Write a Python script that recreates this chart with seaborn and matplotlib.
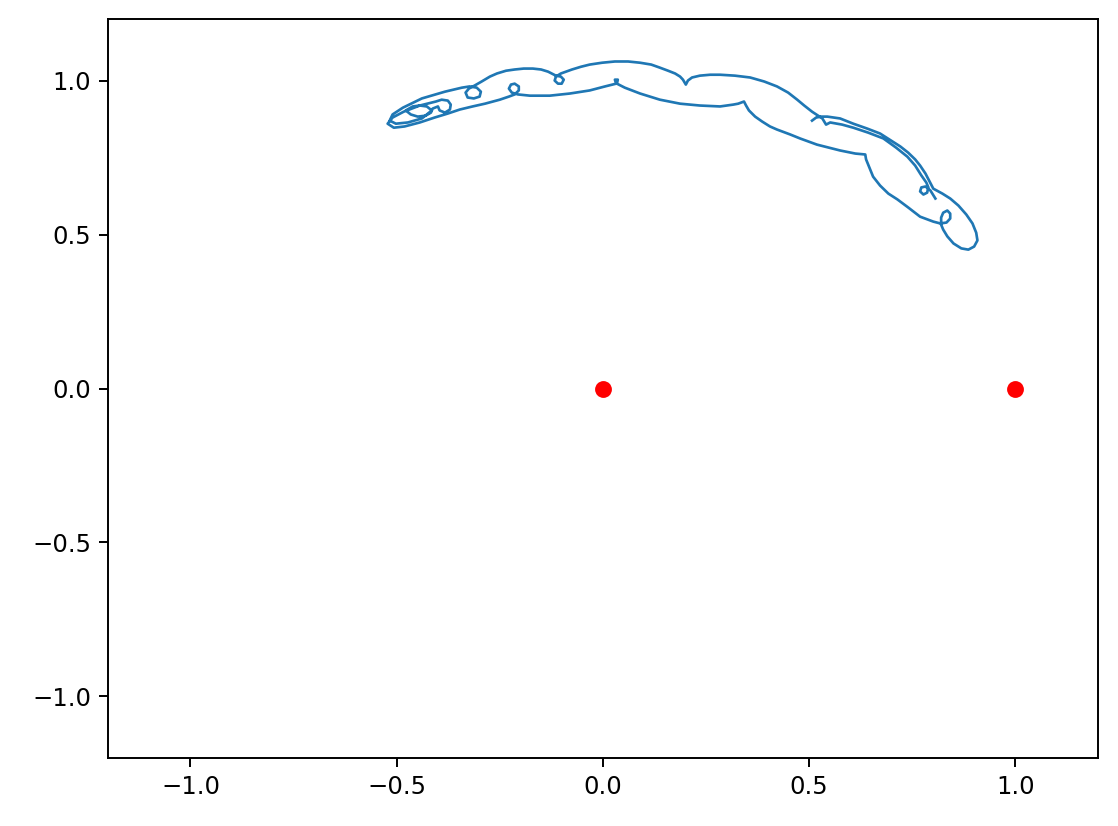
import pandas as pd
import matplotlib
matplotlib.use("Agg")
import matplotlib.pyplot as plt
import seaborn as sns


# positions of the two bodies
body_x = [0.0, 1.0]
body_y = [0.0, 0.0]

# trajectory (rotating frame), in path order
orbit_x = [
    # start near the right end, outward strand
    0.507, 0.517, 0.529, 0.544, 0.575, 0.607, 0.641, 0.672, 0.699, 0.721, 0.740,
    0.757, 0.769, 0.782, 0.791, 0.801,
    # turn at the right end
    0.823, 0.842, 0.862, 0.881, 0.896, 0.905, 0.908, 0.900, 0.886, 0.869, 0.850,
    0.835, 0.825, 0.820,
    0.820, 0.825, 0.835, 0.842, 0.842, 0.833, 0.818, 0.801,
    # inner strand going left
    0.769, 0.740, 0.714, 0.692, 0.672, 0.655, 0.646, 0.638, 0.636, 0.612, 0.575,
    0.519, 0.478, 0.454, 0.422, 0.405, 0.386, 0.369, 0.354, 0.347, 0.342, 0.328,
    0.316, 0.284, 0.235, 0.187, 0.138, 0.090, 0.053,
    0.034, 0.036, 0.029, 0.032, 0.005, -0.032, -0.080, -0.129, -0.177,
    -0.206, -0.221, -0.228, -0.223, -0.214, -0.204, -0.204, -0.214, -0.228,
    -0.250, -0.286, -0.316, -0.347, -0.376, -0.408, -0.444, -0.481, -0.507, -0.522,
    # loops at the left end
    -0.510, -0.483, -0.444, -0.405,
    -0.391, -0.376, -0.369, -0.371, -0.383, -0.396, -0.400, -0.413,
    -0.417, -0.430, -0.449, -0.466, -0.478, -0.461, -0.444, -0.427, -0.415,
    -0.439, -0.473, -0.502, -0.517, -0.510, -0.485, -0.439, -0.383, -0.342, -0.323,
    # outer strand going right
    -0.306, -0.296, -0.299, -0.313, -0.328, -0.333, -0.325, -0.311, -0.294,
    -0.274, -0.257, -0.235, -0.214, -0.192, -0.170, -0.150, -0.133,
    -0.114, -0.102, -0.095, -0.100, -0.109, -0.117, -0.114, -0.102,
    -0.075, -0.053, -0.032, -0.002, 0.029, 0.061, 0.090, 0.117, 0.138, 0.158,
    0.175, 0.187, 0.194, 0.201, 0.206, 0.216, 0.235, 0.260, 0.284, 0.320, 0.357,
    0.391, 0.422, 0.449, 0.471, 0.488, 0.507, 0.522, 0.532, 0.541,
    0.551, 0.580, 0.607, 0.643, 0.680, 0.711, 0.738, 0.757, 0.772, 0.784,
    0.789, 0.786, 0.777, 0.769, 0.772, 0.782, 0.794, 0.806,
]
orbit_y = [
    0.870, 0.880, 0.883, 0.883, 0.877, 0.860, 0.844, 0.828, 0.805, 0.786, 0.766,
    0.744, 0.724, 0.698, 0.675, 0.649,
    0.633, 0.617, 0.594, 0.565, 0.536, 0.506, 0.481, 0.461, 0.451, 0.455, 0.471,
    0.494, 0.516, 0.532,
    0.555, 0.571, 0.578, 0.568, 0.552, 0.539, 0.536, 0.542,
    0.558, 0.588, 0.614, 0.633, 0.659, 0.688, 0.718, 0.744, 0.760, 0.763, 0.773,
    0.792, 0.812, 0.825, 0.841, 0.851, 0.867, 0.883, 0.903, 0.919, 0.932, 0.925,
    0.922, 0.916, 0.919, 0.925, 0.938, 0.958, 0.977,
    0.990, 1.003, 1.003, 0.990, 0.981, 0.968, 0.958, 0.951, 0.951,
    0.955, 0.961, 0.974, 0.987, 0.990, 0.981, 0.968, 0.955, 0.948,
    0.938, 0.925, 0.916, 0.906, 0.893, 0.880, 0.864, 0.851, 0.847, 0.860,
    0.880, 0.899, 0.919, 0.932,
    0.938, 0.935, 0.922, 0.906, 0.896, 0.903, 0.916, 0.909,
    0.896, 0.886, 0.883, 0.890, 0.903, 0.916, 0.919, 0.916, 0.903,
    0.877, 0.864, 0.860, 0.870, 0.890, 0.912, 0.942, 0.964, 0.977, 0.981,
    0.977, 0.964, 0.948, 0.942, 0.945, 0.961, 0.974, 0.984, 0.997,
    1.013, 1.023, 1.032, 1.036, 1.039, 1.039, 1.036, 1.029,
    1.016, 1.013, 1.003, 0.990, 0.990, 1.000, 1.013, 1.023,
    1.036, 1.045, 1.052, 1.058, 1.062, 1.062, 1.058, 1.052, 1.042, 1.032,
    1.023, 1.013, 1.003, 0.987, 1.000, 1.010, 1.016, 1.019, 1.019, 1.016, 1.010,
    0.997, 0.981, 0.961, 0.938, 0.919, 0.899, 0.886, 0.877, 0.857,
    0.864, 0.857, 0.847, 0.831, 0.812, 0.782, 0.753, 0.724, 0.692, 0.669,
    0.653, 0.636, 0.630, 0.640, 0.653, 0.656, 0.643, 0.617,
]

orbit = pd.DataFrame({"x": orbit_x, "y": orbit_y})
bodies = pd.DataFrame({"x": body_x, "y": body_y})

fig, ax = plt.subplots(figsize=(1118 / 175, 826 / 175), dpi=175)
fig.subplots_adjust(left=0.0966, right=0.982, top=0.977, bottom=0.0823)

sns.lineplot(
    data=orbit,
    x="x",
    y="y",
    sort=False,
    estimator=None,
    color="#1f77b4",
    linewidth=1.1,
    ax=ax,
)
sns.scatterplot(
    data=bodies,
    x="x",
    y="y",
    color="red",
    s=48,
    linewidth=0,
    zorder=3,
    ax=ax,
)

ax.set_xlim(-1.2, 1.2)
ax.set_ylim(-1.2, 1.2)
ax.set_xticks([-1.0, -0.5, 0.0, 0.5, 1.0])
ax.set_yticks([-1.0, -0.5, 0.0, 0.5, 1.0])
ax.set_xlabel("")
ax.set_ylabel("")

fig.savefig("out.png", dpi=175)
plt.close(fig)
